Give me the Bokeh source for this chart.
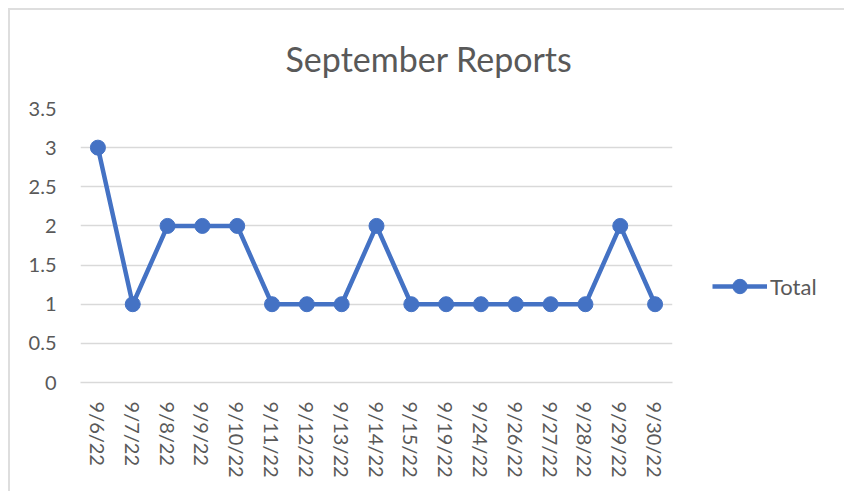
from bokeh.plotting import figure
from bokeh.models import (ColumnDataSource, FactorRange, Range1d, FixedTicker,
                          CustomJSTickFormatter, Legend, LegendItem)
from bokeh.embed import file_html
from bokeh.resources import INLINE

dates = ["9/6/22", "9/7/22", "9/8/22", "9/9/22", "9/10/22", "9/11/22", "9/12/22",
         "9/13/22", "9/14/22", "9/15/22", "9/19/22", "9/24/22", "9/26/22",
         "9/27/22", "9/28/22", "9/29/22", "9/30/22"]
totals = [3, 1, 2, 2, 2, 1, 1, 1, 2, 1, 1, 1, 1, 1, 1, 2, 1]
y_ticks = [0, 0.5, 1, 1.5, 2, 2.5, 3, 3.5]
series_name = "Total"
title_text = "September Reports"

FONT = "Lato"
TXT = "#595959"
GRID = "#d9d9d9"
BLUE = "#4472C4"

src = ColumnDataSource(dict(x=dates, y=totals))

p = figure(x_range=FactorRange(*dates, range_padding=0),
           y_range=Range1d(0, 3.5),
           width=834, height=481,
           frame_width=592, frame_height=274,
           min_border_left=70, min_border_right=172,
           min_border_top=98, min_border_bottom=109,
           output_backend="svg", toolbar_location=None,
           title=title_text)

p.styles = {"margin-left": "8px", "margin-top": "8px",
            "border-left": "2px solid #dedede", "border-top": "2px solid #dedede"}

p.background_fill_color = "white"
p.border_fill_color = "white"
p.outline_line_color = None

p.title.text_font = FONT
p.title.text_font_size = "34px"
p.title.text_font_style = "normal"
p.title.text_color = TXT
p.title.align = "left"
p.title.vertical_align = "top"
p.title.offset = 205
p.title.standoff = 55

# y axis
p.yaxis.ticker = FixedTicker(ticks=y_ticks)
p.yaxis.formatter = CustomJSTickFormatter(code="return String(tick);")
p.yaxis.axis_line_color = None
p.yaxis.major_tick_line_color = None
p.yaxis.minor_tick_line_color = None
p.yaxis.major_label_text_font = FONT
p.yaxis.major_label_text_font_size = "20px"
p.yaxis.major_label_text_color = TXT
p.yaxis.major_label_standoff = 18

# x axis
p.xaxis.axis_line_color = GRID
p.xaxis.axis_line_width = 1.3
p.xaxis.major_tick_line_color = None
p.xaxis.minor_tick_line_color = None
p.xaxis.major_label_orientation = "vertical"
p.xaxis.major_label_text_font = FONT
p.xaxis.major_label_text_font_size = "20px"
p.xaxis.major_label_text_color = TXT
p.xaxis.major_label_standoff = 13

p.xgrid.grid_line_color = None
p.ygrid.grid_line_color = GRID
p.ygrid.grid_line_width = 1.3
p.ygrid.ticker = FixedTicker(ticks=y_ticks)

ln = p.line("x", "y", source=src, line_color=BLUE, line_width=4.5)
sc = p.scatter("x", "y", source=src, size=15, fill_color=BLUE, line_color=BLUE)

legend = Legend(items=[LegendItem(label=series_name, renderers=[ln, sc])],
                location=(40, 78), orientation="vertical",
                glyph_width=55, glyph_height=36, label_height=36,
                label_standoff=3, padding=0, margin=0, spacing=0,
                border_line_alpha=0, background_fill_alpha=0,
                label_text_font=FONT, label_text_font_size="22px",
                label_text_color=TXT)
p.add_layout(legend, "right")

open("out.html", "w").write(file_html(p, INLINE))
